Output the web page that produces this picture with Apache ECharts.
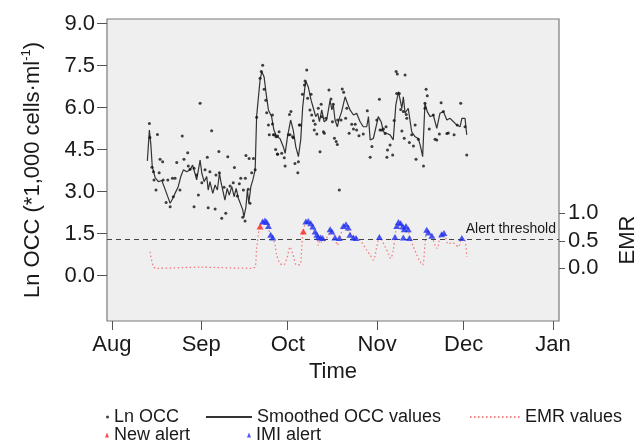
<!DOCTYPE html>
<html>
<head>
<meta charset="utf-8">
<script src="https://cdn.jsdelivr.net/npm/echarts@6/dist/echarts.min.js"></script>
<style>
  html, body { margin: 0; padding: 0; background: #fff; }
  #main { width: 644px; height: 445px; }
</style>
</head>
<body>
<div id="main"></div>
<script>
// x values are days since 1 Aug
var monthTicks = [0, 31, 61, 92, 122, 153];
var monthLabels = ['Aug', 'Sep', 'Oct', 'Nov', 'Dec', 'Jan'];
var occTicks = [0, 1.5, 3, 4.5, 6, 7.5, 9];
var emrTicks = [0, 0.5, 1];
var alertThreshold = 0.527;

// smoothed OCC values
var smoothDays = [12.3, 13.0, 13.5, 14.0, 15.0, 16.1, 17.3, 18.4, 19.6, 20.2, 21.1, 21.9, 23.0, 23.9, 24.8, 26.0, 27.1, 28.0, 28.8, 29.4,
  30.6, 31.2, 32.0, 32.9, 33.4, 34.0, 35.0, 35.8, 36.6, 37.3, 37.8, 38.7, 39.2, 40.0, 40.7, 41.6, 42.4, 43.1, 43.9, 44.4,
  45.4, 45.8, 46.5, 47.0, 47.5, 48.2, 48.9, 49.7, 50.2, 51.4, 52.0, 52.8, 53.5, 54.3, 55.4, 56.2, 57.2, 58.3, 59.5, 60.1,
  60.9, 62.0, 62.9, 63.8, 64.7, 65.5, 66.2, 67.2, 68.1, 69.1, 69.9, 70.7, 71.4, 72.0, 72.8, 73.6, 74.5, 75.7, 76.3, 76.8,
  77.4, 78.2, 78.9, 79.7, 80.9, 81.7, 82.6, 83.8, 84.9, 86.1, 87.2, 88.4, 89.0, 89.6, 90.7, 91.9, 92.4, 93.4, 94.2, 95.4,
  96.5, 97.6, 98.5, 99.4, 100.0, 100.6, 101.1, 101.7, 102.8, 104.0, 105.2, 106.3, 107.1, 107.8, 108.6, 109.4, 110.4, 111.5, 112.7, 113.8,
  115.0, 116.2, 117.3, 118.5, 119.6, 120.8, 121.4, 121.9, 122.5, 123.1];
var smoothVals = [4.1, 5.2, 4.7, 3.9, 3.5, 3.36, 3.4, 3.1, 2.76, 2.59, 2.76, 2.94, 3.18, 3.54, 3.78, 3.71, 3.78, 3.95, 3.66, 3.42,
  4.13, 3.66, 3.36, 3.54, 3.06, 3.36, 2.94, 3.24, 3.06, 3.66, 3.36, 2.94, 2.7, 3.12, 2.88, 3.18, 2.82, 3.12, 2.76, 2.82,
  2.35, 2.1, 2.46, 3.06, 2.59, 3.18, 3.42, 3.78, 5.68, 6.99, 7.29, 7.1, 6.5, 5.92, 5.68, 5.2, 4.96, 4.9, 4.6, 4.37,
  4.96, 5.56, 5.2, 4.6, 4.25, 4.85, 6.04, 6.96, 6.75, 6.27, 5.98, 5.68, 5.8, 5.5, 5.92, 5.5, 5.56, 6.27, 5.92, 6.1,
  5.56, 5.32, 5.62, 5.86, 6.39, 6.16, 5.92, 5.74, 5.8, 5.5, 5.32, 5.32, 5.68, 4.85, 4.9, 5.44, 5.68, 5.5, 5.14, 5.08,
  5.03, 4.85, 6.1, 6.57, 6.51, 5.98, 6.39, 5.8, 5.98, 5.14, 4.96, 4.9, 4.6, 4.25, 6.16, 5.86, 5.68, 5.74, 5.26, 5.8,
  5.86, 5.56, 5.62, 5.5, 5.38, 5.32, 5.62, 5.68, 5.62, 5.03];

// measured Ln OCC
var occDays = [13.0, 13.2, 15.8, 24.4, 34.6, 13.9, 14.4, 16.7, 17.6, 16.4, 14.6, 15.3, 17.8, 19.4, 21.0, 21.9, 18.8, 20.2, 21.3, 22.5,
  25.0, 26.3, 23.6, 28.5, 30.0, 33.1, 31.2, 34.0, 33.4, 35.8, 37.1, 37.3, 40.2, 38.9, 38.1, 39.5, 41.0, 42.5, 43.5, 44.2,
  46.5, 47.6, 49.1, 46.3, 47.3, 47.9, 45.4, 46.2, 48.5, 30.6, 52.3, 51.8, 51.4, 50.2, 52.8, 53.4, 53.7, 54.3, 54.6, 55.7,
  56.0, 56.9, 58.0, 56.8, 57.4, 58.9, 61.6, 62.1, 61.2, 62.7, 65.0, 49.7, 55.7, 56.4, 57.5, 57.5, 59.8, 60.1, 61.8, 62.9,
  63.5, 64.7, 64.5, 65.3, 67.6, 67.0, 66.8, 66.1, 67.9, 69.1, 68.7, 69.3, 69.9, 70.5, 70.2, 71.1, 71.6, 72.6, 72.8, 73.4,
  73.7, 72.2, 74.2, 75.3, 76.0, 76.8, 76.5, 77.2, 77.8, 78.2, 78.3, 79.5, 79.9, 80.4, 81.5, 81.1, 82.3, 83.2, 84.4, 83.8,
  84.9, 85.7, 87.2, 78.9, 88.6, 89.6, 90.2, 91.9, 92.8, 93.0, 93.6, 94.8, 95.6, 95.4, 96.5, 97.4, 97.9, 98.6, 99.0, 101.7,
  98.8, 99.7, 100.2, 101.1, 100.6, 101.4, 102.3, 103.2, 104.0, 104.6, 105.5, 106.3, 108.1, 109.0, 109.4, 108.6, 110.1, 112.1, 112.7, 113.6,
  114.2, 116.2, 118.7, 121.0, 122.5, 123.1, 94.2, 95.1, 105.2, 116.7, 108.6, 102.1, 27.1, 28.5, 26.5, 29.4, 32.3, 36.1, 42.1, 44.7,
  45.6, 115.0, 111.5, 119.8];
var occVals = [5.44, 4.94, 5.04, 4.99, 5.18, 3.87, 3.71, 4.16, 4.07, 3.68, 3.42, 3.06, 3.42, 3.42, 3.48, 3.48, 2.61, 2.46, 2.82, 4.04,
  4.16, 4.39, 3.06, 2.46, 2.88, 4.23, 3.32, 3.71, 2.43, 2.38, 4.44, 3.68, 4.25, 3.16, 2.05, 2.23, 3.2, 3.86, 2.85, 3.28,
  4.29, 4.19, 4.19, 3.48, 3.09, 2.59, 2.09, 1.95, 3.68, 6.16, 7.52, 7.29, 7.05, 5.66, 6.66, 6.27, 5.82, 5.38, 5.03, 5.42,
  5.03, 4.96, 5.14, 4.51, 4.35, 4.37, 5.76, 5.86, 5.03, 4.96, 5.38, 3.78, 5.74, 5.03, 4.99, 4.34, 4.21, 3.92, 5.03, 4.93,
  4.01, 4.07, 3.68, 5.38, 7.35, 6.95, 6.81, 6.48, 6.34, 6.48, 5.92, 5.74, 5.53, 5.41, 5.2, 5.06, 5.98, 6.12, 5.68, 5.14,
  5.09, 4.43, 5.62, 6.63, 6.31, 6.12, 5.5, 4.91, 4.79, 4.69, 5.56, 5.56, 6.67, 6.55, 5.98, 5.62, 5.09, 5.41, 5.41, 5.24,
  5.2, 5.0, 5.06, 3.06, 5.89, 4.23, 4.61, 5.56, 6.3, 5.2, 5.2, 5.08, 4.49, 4.23, 4.67, 4.31, 5.54, 7.29, 7.2, 7.17,
  6.51, 6.51, 5.94, 5.86, 5.17, 4.91, 5.62, 4.76, 5.03, 4.63, 4.16, 4.87, 3.92, 6.66, 6.43, 6.16, 5.24, 4.87, 4.85, 5.06,
  6.18, 5.08, 5.03, 6.16, 5.32, 4.31, 5.24, 5.32, 5.38, 5.1, 5.98, 5.76, 3.8, 3.84, 3.92, 3.6, 3.78, 3.6, 3.32, 3.48,
  3.06, 5.86, 5.74, 5.38];

// EMR values
var emrDays = [13.2, 14.4, 15.5, 30.6, 48.5, 49.7, 50.2, 50.8, 51.4, 52.5, 53.7, 54.3, 54.9, 55.8, 56.6, 57.2, 58.3, 59.5, 60.7, 61.8,
  62.7, 64.1, 65.3, 65.9, 66.4, 67.6, 68.7, 69.7, 70.5, 71.1, 71.6, 72.2, 72.8, 73.9, 75.1, 75.7, 76.3, 77.4, 78.2, 79.1,
  80.3, 81.5, 82.0, 83.2, 84.4, 85.2, 86.7, 88.4, 89.6, 90.7, 91.9, 92.8, 93.6, 94.8, 95.9, 96.7, 97.6, 98.2, 98.8, 99.7,
  100.6, 101.4, 102.0, 102.8, 103.4, 104.6, 105.8, 106.9, 107.8, 108.6, 109.2, 110.0, 110.9, 112.1, 112.9, 113.8, 114.8, 115.6, 116.7, 117.9,
  119.0, 120.2, 121.4, 122.5, 123.1];
var emrVals = [0.30, 0.03, 0.0, 0.02, 0.0, 0.03, 0.36, 0.61, 0.76, 0.85, 0.82, 0.76, 0.61, 0.56, 0.42, 0.24, 0.09, 0.06, 0.18, 0.39,
  0.27, 0.06, 0.07, 0.42, 0.67, 0.85, 0.82, 0.74, 0.64, 0.57, 0.42, 0.55, 0.47, 0.51, 0.61, 0.71, 0.67, 0.57, 0.42, 0.55,
  0.76, 0.79, 0.67, 0.61, 0.55, 0.55, 0.47, 0.33, 0.24, 0.15, 0.39, 0.57, 0.51, 0.39, 0.27, 0.18, 0.33, 0.57, 0.77, 0.85,
  0.77, 0.71, 0.77, 0.71, 0.55, 0.39, 0.24, 0.12, 0.06, 0.42, 0.7, 0.64, 0.59, 0.42, 0.36, 0.57, 0.64, 0.59, 0.44, 0.47,
  0.44, 0.39, 0.55, 0.51, 0.21];

// alerts
var newAlertDays = [51.4, 66.4];
var newAlertVals = [0.76, 0.67];
var imiDays = [52.3, 53.1, 53.7, 54.3, 55.1, 55.8, 67.3, 68.1, 69.0, 69.7, 70.5, 71.1, 71.6, 72.4, 73.1, 75.7, 76.3, 77.4, 78.9, 80.3,
  81.2, 82.0, 82.6, 83.8, 84.7, 92.8, 98.2, 98.8, 99.4, 100.2, 100.9, 101.1, 101.4, 102.0, 102.8, 103.2, 109.2, 109.8, 111.0, 114.4,
  115.2, 121.4];
var imiVals = [0.85, 0.87, 0.84, 0.77, 0.61, 0.56, 0.85, 0.86, 0.82, 0.76, 0.67, 0.61, 0.57, 0.56, 0.55, 0.71, 0.67, 0.56, 0.55, 0.77,
  0.8, 0.74, 0.61, 0.56, 0.55, 0.57, 0.57, 0.77, 0.84, 0.82, 0.76, 0.56, 0.71, 0.77, 0.71, 0.55, 0.7, 0.65, 0.59, 0.62,
  0.64, 0.55];

function pairs(xs, ys) {
  return xs.map(function (x, i) { return [x, ys[i]]; });
}

var FONT = '"Liberation Sans", Arial, Helvetica, sans-serif';
var legendText = { fontFamily: FONT, fontSize: 18, color: '#1a1a1a' };

var myChart = echarts.init(document.getElementById('main'));

var option = {
  animation: false,
  backgroundColor: '#fff',
  grid: {
    left: 107, right: 85, top: 19, bottom: 124,
    show: true, backgroundColor: '#efefef', borderColor: '#7a7a7a', borderWidth: 1.2
  },
  xAxis: {
    type: 'value',
    min: -1.7, max: 155.1,
    name: 'Time', nameLocation: 'middle', nameGap: 40,
    nameTextStyle: { fontFamily: FONT, fontSize: 22, color: '#1a1a1a' },
    axisLine: { show: false, onZero: false },
    splitLine: { show: false },
    axisTick: { show: true, length: 9, customValues: monthTicks, lineStyle: { color: '#555' } },
    axisLabel: {
      customValues: monthTicks, margin: 13,
      fontFamily: FONT, fontSize: 22, color: '#1a1a1a',
      formatter: function (v) { return monthLabels[monthTicks.indexOf(v)]; }
    }
  },
  yAxis: [
    {
      type: 'value',
      min: -1.618, max: 9.168,
      name: 'Ln OCC (*1,000 cells·ml{sup|-1})', nameLocation: 'middle', nameGap: 62,
      nameTextStyle: {
        fontFamily: FONT, fontSize: 22, color: '#1a1a1a',
        rich: { sup: { fontFamily: FONT, fontSize: 13, color: '#1a1a1a', padding: [0, 0, 12, 0] } }
      },
      axisLine: { show: false, onZero: false },
      splitLine: { show: false },
      axisTick: { show: true, length: 10, customValues: occTicks, lineStyle: { color: '#555' } },
      axisLabel: {
        customValues: occTicks, margin: 12,
        fontFamily: FONT, fontSize: 22, color: '#1a1a1a',
        formatter: function (v) { return v.toFixed(1); }
      }
    },
    {
      type: 'value',
      position: 'right',
      min: -0.958, max: 4.533,
      axisLine: { show: false, onZero: false },
      splitLine: { show: false },
      axisTick: { show: true, length: 6, customValues: emrTicks, lineStyle: { color: '#555' } },
      axisLabel: {
        customValues: emrTicks, margin: 9,
        fontFamily: FONT, fontSize: 22, color: '#1a1a1a',
        formatter: function (v) { return v.toFixed(1); }
      }
    }
  ],
  legend: [
    { data: ['Ln OCC'], left: 106, top: 408, padding: 0, icon: 'circle', itemWidth: 3, itemHeight: 3, textStyle: legendText },
    { data: ['Smoothed OCC values'], left: 205, top: 408, padding: 0, itemWidth: 46, itemHeight: 10,
      itemStyle: { opacity: 0 }, textStyle: legendText },
    { data: ['EMR values'], left: 469, top: 408, padding: 0, itemWidth: 50, itemHeight: 10,
      itemStyle: { opacity: 0 }, textStyle: legendText },
    { data: ['New alert'], left: 105, top: 426, padding: 0, icon: 'triangle', itemWidth: 4, itemHeight: 5, textStyle: legendText },
    { data: ['IMI alert'], left: 247, top: 426, padding: 0, icon: 'triangle', itemWidth: 4, itemHeight: 5, textStyle: legendText }
  ],
  graphic: [
    {
      type: 'text', x: 628, y: 240, rotation: Math.PI / 2,
      style: { text: 'EMR', font: '22px ' + FONT, fill: '#1a1a1a', textAlign: 'center', textVerticalAlign: 'middle' }
    }
  ],
  series: [
    {
      name: 'EMR values',
      type: 'line',
      yAxisIndex: 1,
      data: pairs(emrDays, emrVals),
      symbol: 'none',
      smooth: 0.3,
      lineStyle: { color: '#f07f7f', width: 1.3, type: [1.5, 2.5] },
      itemStyle: { color: '#f07f7f' },
      z: 2,
      markLine: {
        silent: true,
        symbol: 'none',
        data: [{ yAxis: alertThreshold }],
        lineStyle: { color: '#444', width: 1.2, type: [5, 4] },
        label: {
          show: true, position: 'insideEndTop', distance: 3,
          formatter: 'Alert threshold',
          fontFamily: FONT, fontSize: 14, color: '#1a1a1a'
        }
      }
    },
    {
      name: 'Smoothed OCC values',
      type: 'line',
      data: pairs(smoothDays, smoothVals),
      symbol: 'none',
      lineStyle: { color: '#333', width: 1.2 },
      itemStyle: { color: '#333' },
      z: 3
    },
    {
      name: 'Ln OCC',
      type: 'scatter',
      data: pairs(occDays, occVals),
      symbol: 'circle',
      symbolSize: 3,
      itemStyle: { color: '#111' },
      z: 4
    },
    {
      name: 'IMI alert',
      type: 'scatter',
      yAxisIndex: 1,
      data: pairs(imiDays, imiVals),
      symbol: 'triangle',
      symbolSize: [7, 6],
      itemStyle: { color: '#1f2ff0' },
      z: 5
    },
    {
      name: 'New alert',
      type: 'scatter',
      yAxisIndex: 1,
      data: pairs(newAlertDays, newAlertVals),
      symbol: 'triangle',
      symbolSize: [7, 6],
      itemStyle: { color: '#ff2020' },
      z: 6
    }
  ]
};

myChart.setOption(option);
</script>
</body>
</html>
